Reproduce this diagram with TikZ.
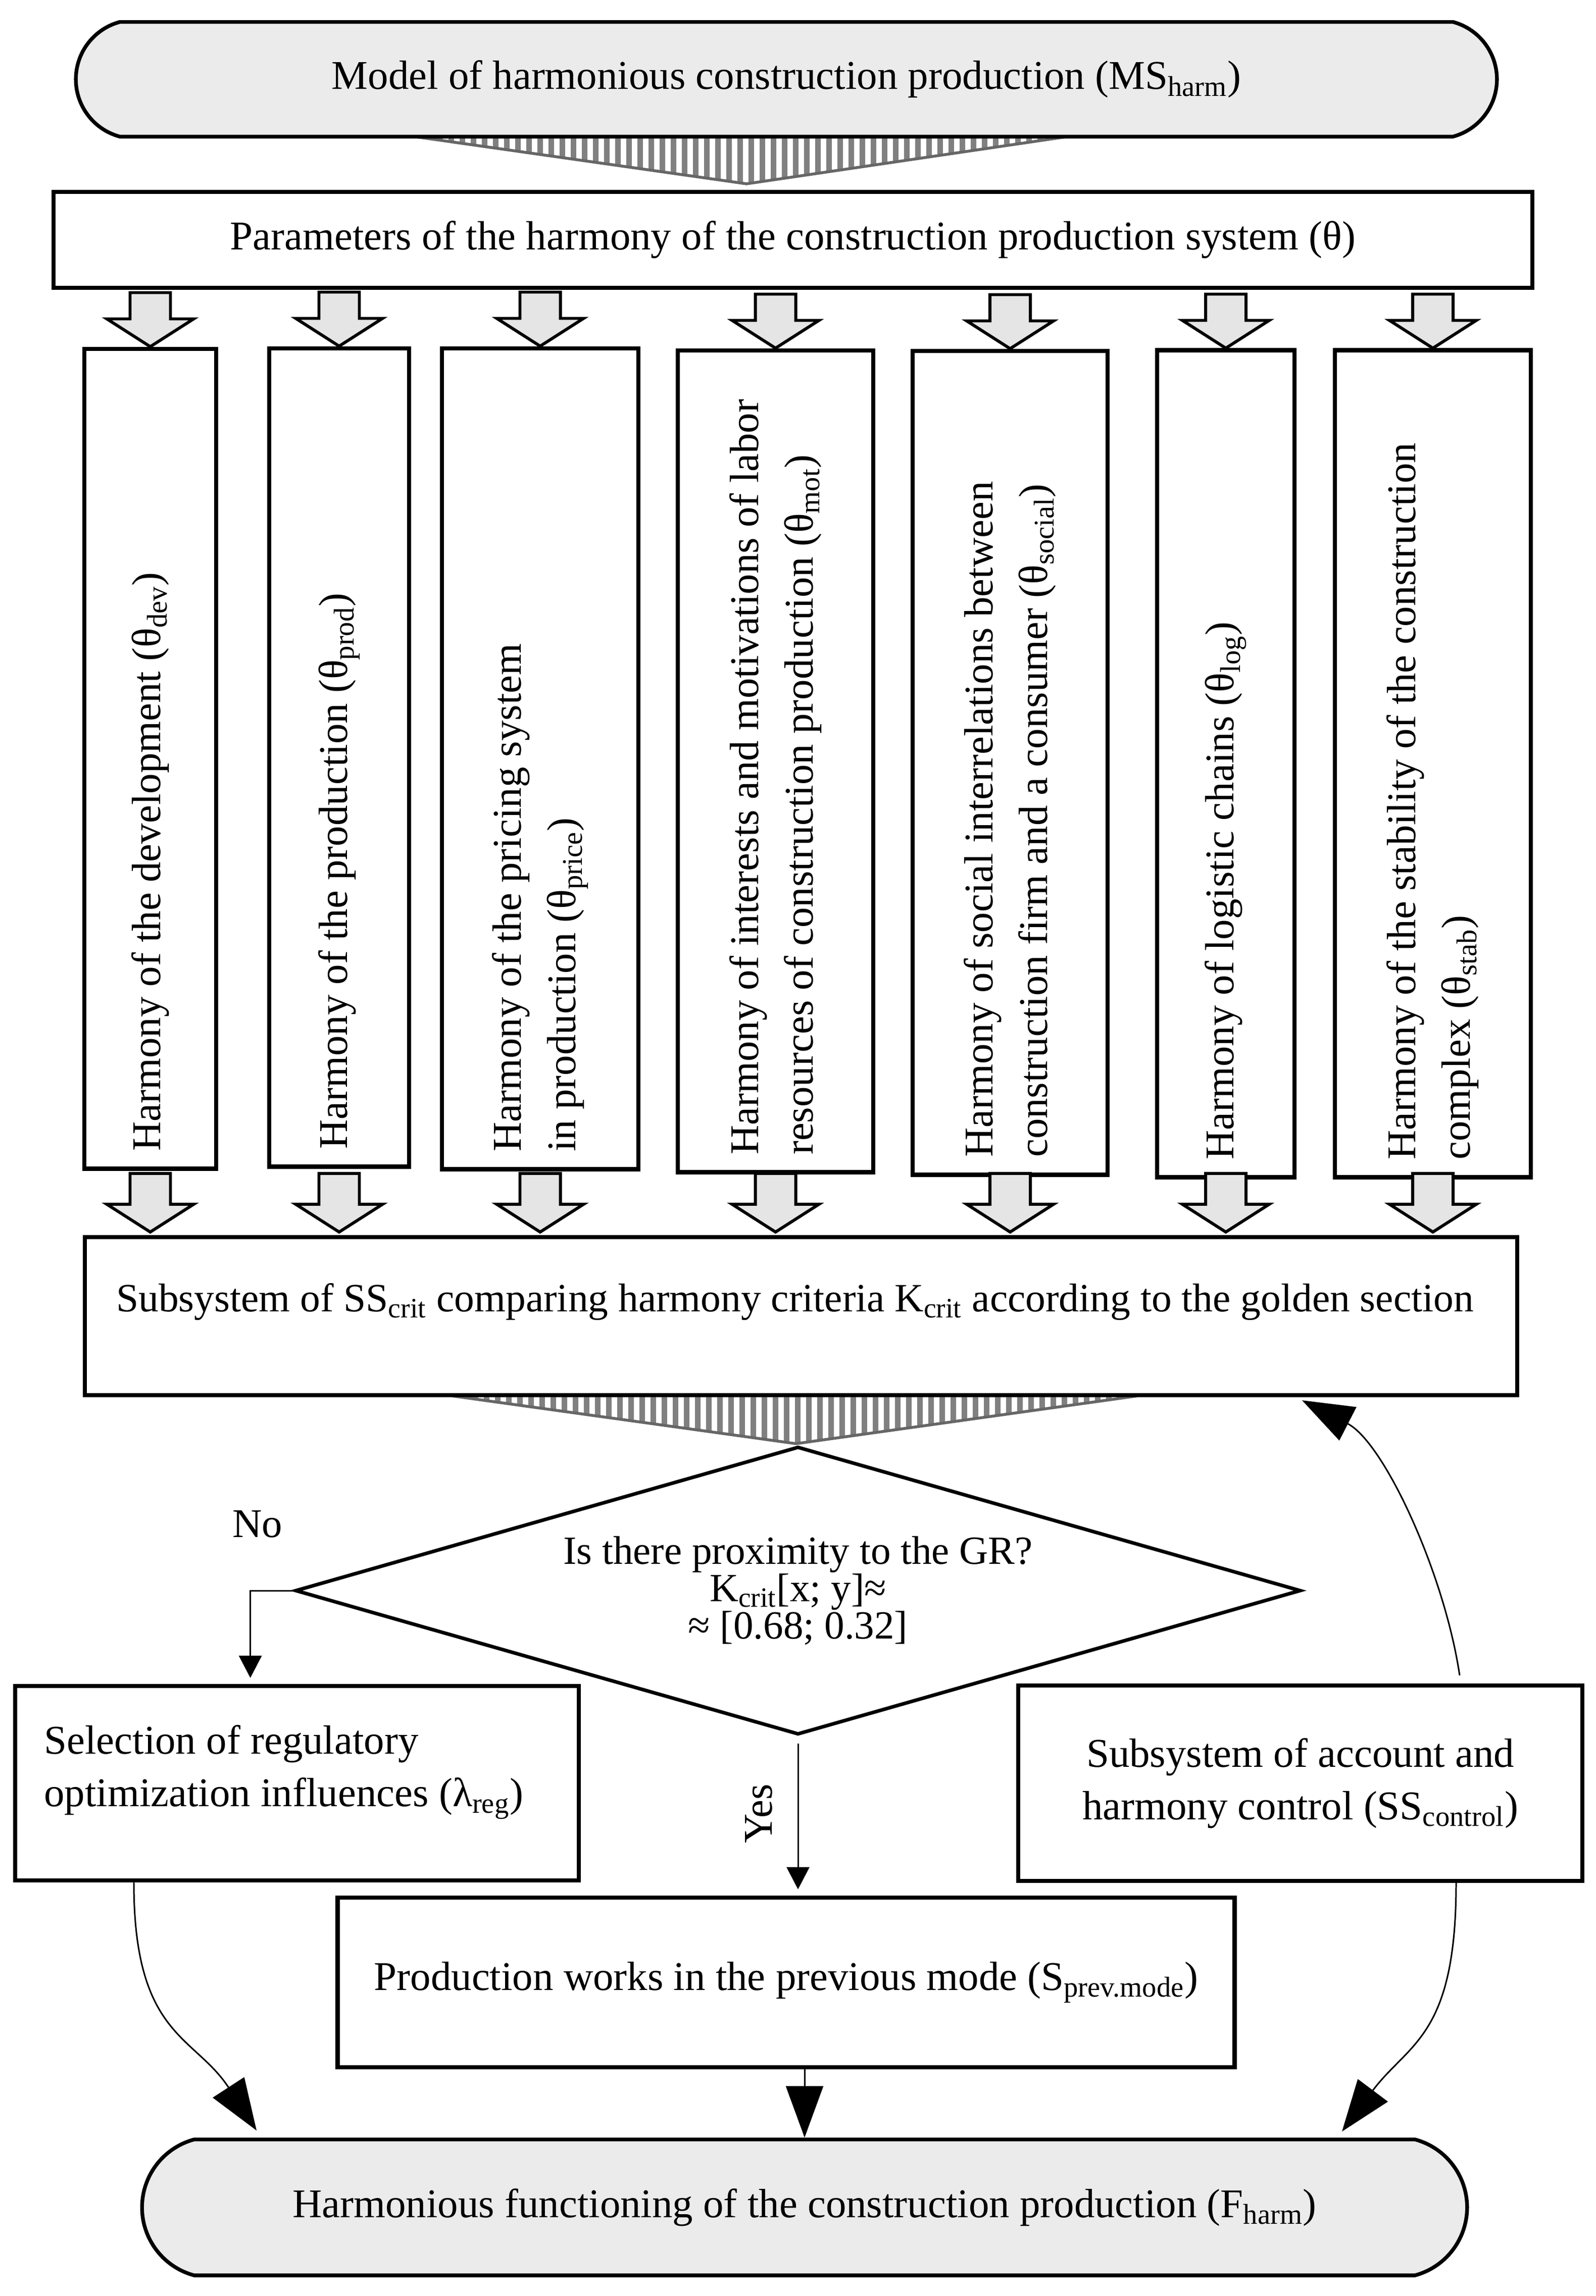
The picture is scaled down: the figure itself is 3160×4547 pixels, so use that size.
\documentclass[tikz,border=0pt]{standalone}
\usepackage{fontspec}
\setmainfont{Liberation Serif}
\usetikzlibrary{shapes.misc,shapes.geometric,arrows.meta,calc}
\newcommand\blkarrow[2]{\draw[blockarrow] #1 -- ++(86,-55) -- ++(-46,0) -- ++(0,-#2) -- ++(-80,0) -- ++(0,#2) -- ++(-46,0) -- cycle;}
\begin{document}
\begin{tikzpicture}[x=0.01cm,y=-0.01cm,
  txt/.style={font=\fontsize{23}{28}\selectfont},
  box/.style={draw, line width=2.3pt, inner sep=0pt, fill=white},
  term/.style={draw, line width=2.1pt, rounded rectangle, rounded rectangle arc length=150, fill=black!8, inner sep=0pt},
  blockarrow/.style={draw, fill=black!10, line width=1.7pt, line join=miter},
  conn/.style={line width=0.85pt},
  bighead/.style={-{Triangle[length=29pt,width=21pt]}},
  smallhead/.style={-{Triangle[length=12.5pt,width=12.8pt]}},
  vtxt/.style={font=\fontsize{23}{30.7}\selectfont, rotate=90, anchor=west, align=left, inner sep=0pt},
  hatch/.style={black!50},
  hatchedge/.style={draw=black!60, line width=1.6pt}
]
\useasboundingbox (0,0) rectangle (3160,4547);

% hatched funnel shapes
\begin{scope}
  \clip (817,270) -- (2117,270) -- (1478,364) -- cycle;
  \foreach \x in {800,822,...,2130} \fill[hatch] (\x,260) rectangle (\x+11,380);
\end{scope}
\draw[hatchedge] (817,270) -- (1478,364) -- (2117,270);
\begin{scope}
  \clip (885,2763) -- (2262,2763) -- (1576,2859) -- cycle;
  \foreach \x in {870,892,...,2280} \fill[hatch] (\x,2750) rectangle (\x+11,2870);
\end{scope}
\draw[hatchedge] (885,2763) -- (1576,2859) -- (2262,2763);

% top terminator and parameters
\node[term, txt, minimum width=28.12cm, minimum height=2.27cm] (top) at (1557,157)
  {Model of harmonious construction production (MS\textsubscript{harm})};
\node[box, txt, minimum width=29.26cm, minimum height=1.9cm] (par) at (1570,475)
  {Parameters of the harmony of the construction production system (θ)};

% vertical boxes
\node[box, minimum width=2.61cm, minimum height=16.23cm] (b1) at (297.5,1502.5) {};
\node[box, minimum width=2.77cm, minimum height=16.2cm] (b2) at (671.5,1500) {};
\node[box, minimum width=3.89cm, minimum height=16.25cm] (b3) at (1069.5,1502.5) {};
\node[box, minimum width=3.87cm, minimum height=16.27cm] (b4) at (1535.5,1507.5) {};
\node[box, minimum width=3.86cm, minimum height=16.31cm] (b5) at (2000,1510.5) {};
\node[box, minimum width=2.72cm, minimum height=16.37cm] (b6) at (2427,1512.5) {};
\node[box, minimum width=3.88cm, minimum height=16.37cm] (b7) at (2837,1512.5) {};

\node[vtxt] (t1) at ($(b1.south)+(0,-38)$) {Harmony of the development (θ\textsubscript{dev})};
\node[vtxt] (t2) at ($(b2.south)+(0,-38)$) {Harmony of the production (θ\textsubscript{prod})};
\node[vtxt] (t3) at ($(b3.south)+(0,-38)$) {Harmony of the pricing system\\in production (θ\textsubscript{price})};
\node[vtxt] (t4) at ($(b4.south)+(0,-38)$) {Harmony of interests and motivations of labor\\resources of construction production (θ\textsubscript{mot})};
\node[vtxt] (t5) at ($(b5.south)+(0,-38)$) {Harmony of social interrelations between\\construction firm and a consumer (θ\textsubscript{social})};
\node[vtxt] (t6) at ($(b6.south)+(0,-38)$) {Harmony of logistic chains (θ\textsubscript{log})};
\node[vtxt] (t7) at ($(b7.south)+(0,-38)$) {Harmony of the stability of the construction\\complex (θ\textsubscript{stab})};

% subsystem box
\node[box, minimum width=28.34cm, minimum height=3.13cm] (sub) at (1586,2606.5) {};
\node[font=\fontsize{22.6}{28}\selectfont, inner sep=0pt] (subt) at ($(sub.center)+(-12,-28)$)
  {Subsystem of SS\textsubscript{crit} comparing harmony criteria K\textsubscript{crit} according to the golden section};

% block arrows
\foreach \i in {1,...,7} {\blkarrow{(b\i.north)}{52}}
\foreach \i in {1,...,7} {\blkarrow{($(b\i |- sub.north)+(0,-6)$)}{61}}

% decision
\node[diamond, draw, line width=2pt, minimum width=19.9cm, minimum height=5.7cm, shape aspect=3.5,
  inner sep=0pt, align=center, font=\fontsize{22.5}{21}\selectfont] (dia) at (1580,3150)
  {Is there proximity to the GR?\\K\textsubscript{crit}[x; y]≈\\≈ [0.68; 0.32]};
\node[txt] (no) at (510,3018) {No};
\node[txt, rotate=90] (yes) at (1502,3592) {Yes};

% lower boxes
\node[box, minimum width=11.16cm, minimum height=3.85cm] (lbox) at (588,3531.5) {};
\node[font=\fontsize{23}{29.6}\selectfont, align=left, anchor=west, inner sep=0pt] (lt)
  at ($(lbox.west)+(61,-22)$) {Selection of regulatory\\optimization influences (λ\textsubscript{reg})};
\node[box, minimum width=11.17cm, minimum height=3.87cm, align=center, font=\fontsize{23}{29.6}\selectfont]
  (rbox) at (2574.5,3531.5) {Subsystem of account and\\harmony control (SS\textsubscript{control})};
\node[box, txt, minimum width=17.75cm, minimum height=3.36cm] (mid) at (1556.5,3926)
  {Production works in the previous mode (S\textsubscript{prev.mode})};
\node[term, txt, minimum width=26.22cm, minimum height=2.69cm] (bot) at (1593,4371.5)
  {Harmonious functioning of the construction production (F\textsubscript{harm})};

% connectors
\draw[conn, smallhead] (dia.west) -| ($(lbox.north west)+(470,-12)$);
\draw[conn, smallhead, shorten <=4pt, shorten >=3.5pt] (dia.south) -- (dia.south |- mid.north);
\draw[conn, bighead] (bot.north |- mid.south) -- (bot.north);
\draw[conn, bighead] ($(lbox.south)+(-323,0)$) .. controls ($(lbox.south)+(-323,305)$) and ($(bot.north)+(-1208,-203)$) .. ($(bot.north)+(-1085,-14)$);
\draw[conn, bighead] ($(rbox.south)+(308.5,0)$) .. controls ($(rbox.south)+(308.5,305)$) and ($(bot.north)+(1196,-188)$) .. ($(bot.north)+(1064,-12)$);
\draw[conn, bighead] ($(rbox.north)+(315.5,-16)$) .. controls ($(rbox.north)+(285.5,-218)$) and ($(sub.south)+(1154,89)$) .. ($(sub.south)+(992,6)$);
\end{tikzpicture}
\end{document}
